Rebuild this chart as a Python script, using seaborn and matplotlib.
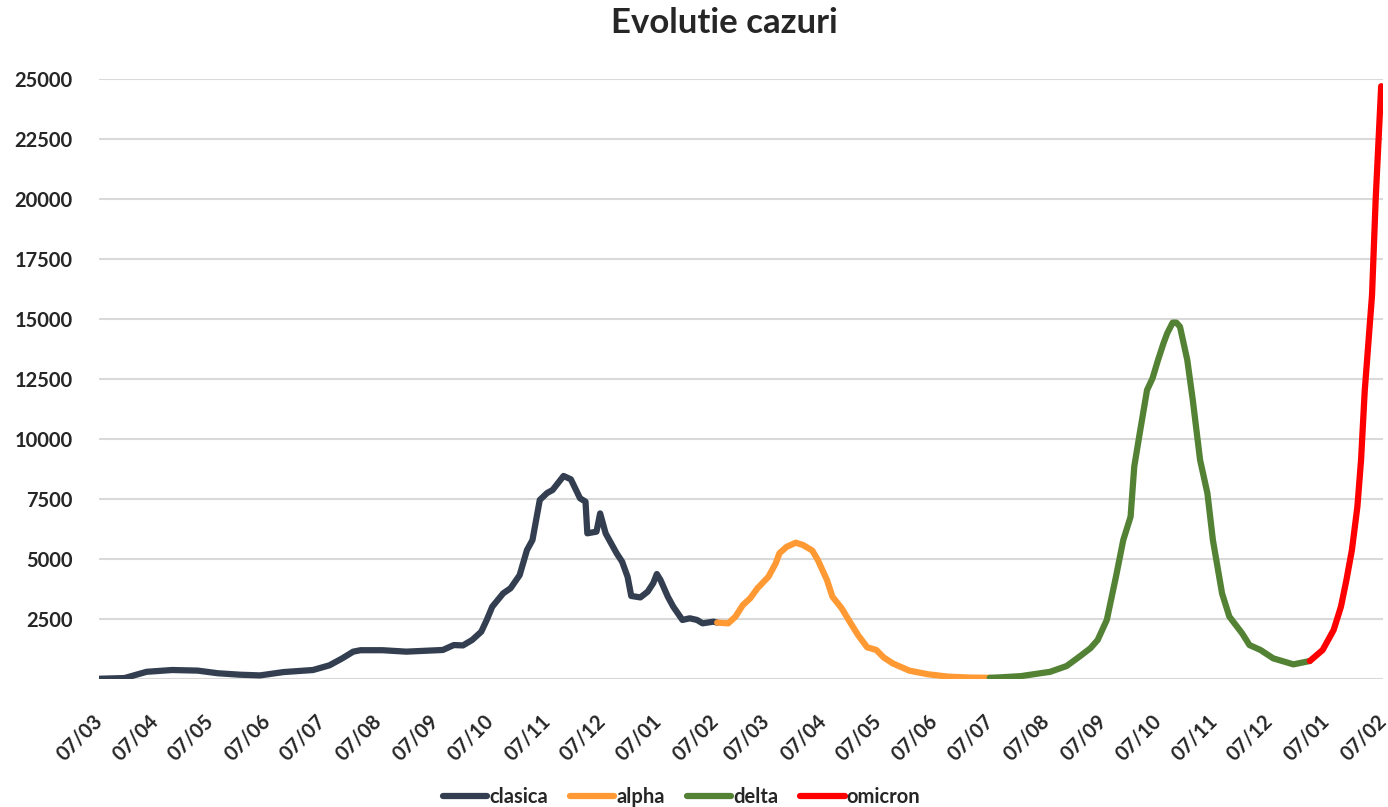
import pandas as pd
import seaborn as sns
import matplotlib.pyplot as plt
import matplotlib.dates as mdates

# values (7-day average of daily cases)
clasica_dates = ['2020-03-07', '2020-03-21', '2020-04-02', '2020-04-16', '2020-04-30', '2020-05-11',
                 '2020-05-23', '2020-06-03', '2020-06-16', '2020-07-02', '2020-07-11', '2020-07-18',
                 '2020-07-24', '2020-07-28', '2020-08-09', '2020-08-22', '2020-09-11', '2020-09-17',
                 '2020-09-22', '2020-09-27', '2020-10-02', '2020-10-05', '2020-10-08', '2020-10-14',
                 '2020-10-18', '2020-10-23', '2020-10-27', '2020-10-30', '2020-11-03', '2020-11-07',
                 '2020-11-10', '2020-11-16', '2020-11-20', '2020-11-25', '2020-11-28', '2020-11-29',
                 '2020-12-04', '2020-12-06', '2020-12-09', '2020-12-11', '2020-12-15', '2020-12-18',
                 '2020-12-21', '2020-12-23', '2020-12-28', '2021-01-01', '2021-01-04', '2021-01-06',
                 '2021-01-08', '2021-01-12', '2021-01-15', '2021-01-20', '2021-01-24', '2021-01-28',
                 '2021-01-31', '2021-02-06', '2021-02-08']
clasica_cases = [10, 40, 300, 375, 350, 240, 180, 150, 290, 375, 570, 860, 1140, 1200, 1200, 1140,
                 1210, 1415, 1400, 1625, 1970, 2460, 3010, 3570, 3780, 4330, 5375, 5790, 7460, 7750,
                 7875, 8460, 8320, 7530, 7390, 6070, 6140, 6900, 6070, 5790, 5240, 4890, 4260, 3460,
                 3400, 3640, 3990, 4375, 4125, 3430, 3010, 2460, 2530, 2460, 2320, 2390, 2350]

alpha_dates = ['2021-02-08', '2021-02-14', '2021-02-18', '2021-02-22', '2021-02-26', '2021-03-02',
               '2021-03-08', '2021-03-12', '2021-03-14', '2021-03-18', '2021-03-23', '2021-03-27',
               '2021-04-01', '2021-04-04', '2021-04-09', '2021-04-12', '2021-04-17', '2021-04-22',
               '2021-04-26', '2021-05-01', '2021-05-06', '2021-05-10', '2021-05-15', '2021-05-24',
               '2021-06-03', '2021-06-14', '2021-06-26', '2021-07-07']
alpha_cases = [2350, 2320, 2600, 3080, 3360, 3780, 4260, 4820, 5240, 5510, 5680, 5580, 5350, 4960,
               4125, 3430, 2950, 2320, 1830, 1320, 1210, 900, 650, 350, 200, 100, 60, 50]

delta_dates = ['2021-07-07', '2021-07-13', '2021-07-24', '2021-08-09', '2021-08-18', '2021-08-25',
               '2021-08-31', '2021-09-04', '2021-09-09', '2021-09-14', '2021-09-18', '2021-09-22',
               '2021-09-24', '2021-09-27', '2021-10-01', '2021-10-04', '2021-10-07', '2021-10-10',
               '2021-10-12', '2021-10-15', '2021-10-17', '2021-10-19', '2021-10-23', '2021-10-26',
               '2021-10-30', '2021-11-03', '2021-11-06', '2021-11-11', '2021-11-15', '2021-11-22',
               '2021-11-26', '2021-12-02', '2021-12-09', '2021-12-20', '2021-12-29']
delta_cases = [50, 70, 120, 300, 540, 930, 1280, 1625, 2460, 4260, 5790, 6760, 8850, 10240, 12040,
               12530, 13290, 13990, 14400, 14850, 14850, 14680, 13290, 11625, 9125, 7740, 5790,
               3570, 2600, 1900, 1415, 1210, 860, 610, 750]

omicron_dates = ['2021-12-29', '2022-01-05', '2022-01-11', '2022-01-15', '2022-01-18', '2022-01-21',
                 '2022-01-24', '2022-01-26', '2022-01-28', '2022-01-30', '2022-02-01', '2022-02-03',
                 '2022-02-06']
omicron_cases = [750, 1210, 2040, 3010, 4125, 5375, 7180, 9125, 12000, 14000, 16000, 20000, 24700]

variants = ['clasica', 'alpha', 'delta', 'omicron']
colors = ['#333F50', '#FF9933', '#548235', '#FF0000']

frames = []
for name, d, v in [('clasica', clasica_dates, clasica_cases), ('alpha', alpha_dates, alpha_cases),
                   ('delta', delta_dates, delta_cases), ('omicron', omicron_dates, omicron_cases)]:
    frames.append(pd.DataFrame({'data': pd.to_datetime(d), 'cazuri': v, 'varianta': name}))
df = pd.concat(frames, ignore_index=True)

sns.set_style('white')
plt.rcParams['font.family'] = ['Lato', 'DejaVu Sans']
plt.rcParams['font.weight'] = 'bold'

fig = plt.figure(figsize=(13.88, 8.07), dpi=100)
ax = fig.add_axes([0.0713, 0.1586, 0.9251, 0.7435])

sns.lineplot(data=df, x='data', y='cazuri', hue='varianta', hue_order=variants,
             palette=dict(zip(variants, colors)), estimator=None, sort=False,
             lw=4.5, solid_joinstyle='round', solid_capstyle='round', ax=ax)

ax.set_xlim(pd.Timestamp('2020-03-07'), pd.Timestamp('2022-02-07'))
ax.set_ylim(0, 25000)
ax.set_yticks(range(0, 25001, 2500))
ax.set_yticklabels([''] + [str(v) for v in range(2500, 25001, 2500)])
ax.xaxis.set_major_locator(mdates.MonthLocator(bymonthday=7))
ax.xaxis.set_major_formatter(mdates.DateFormatter('%d/%m'))

ax.yaxis.grid(True, color='#D9D9D9', lw=1.5)
ax.xaxis.grid(False)
for s in ax.spines.values():
    s.set_visible(False)
ax.tick_params(axis='y', length=0, pad=19, labelsize=14.5)
ax.tick_params(axis='x', length=0, pad=28, labelsize=14.5)
for lbl in ax.get_xticklabels():
    lbl.set_rotation(45)
    lbl.set_ha('right')
    lbl.set_va('center')
    lbl.set_rotation_mode('anchor')
ax.set_xlabel('')
ax.set_ylabel('')

handles, labels = ax.get_legend_handles_labels()
ax.get_legend().remove()
fig.legend(handles, labels, ncol=4, loc='lower center', bbox_to_anchor=(0.491, -0.018),
           frameon=False, fontsize=14.5, handlelength=2.2, handletextpad=0.1,
           columnspacing=1.1, borderpad=0.2)

fig.text(0.522, 0.972, 'Evolutie cazuri', ha='center', va='center', fontsize=25, fontweight='bold')

fig.savefig('out.png', dpi=100)
